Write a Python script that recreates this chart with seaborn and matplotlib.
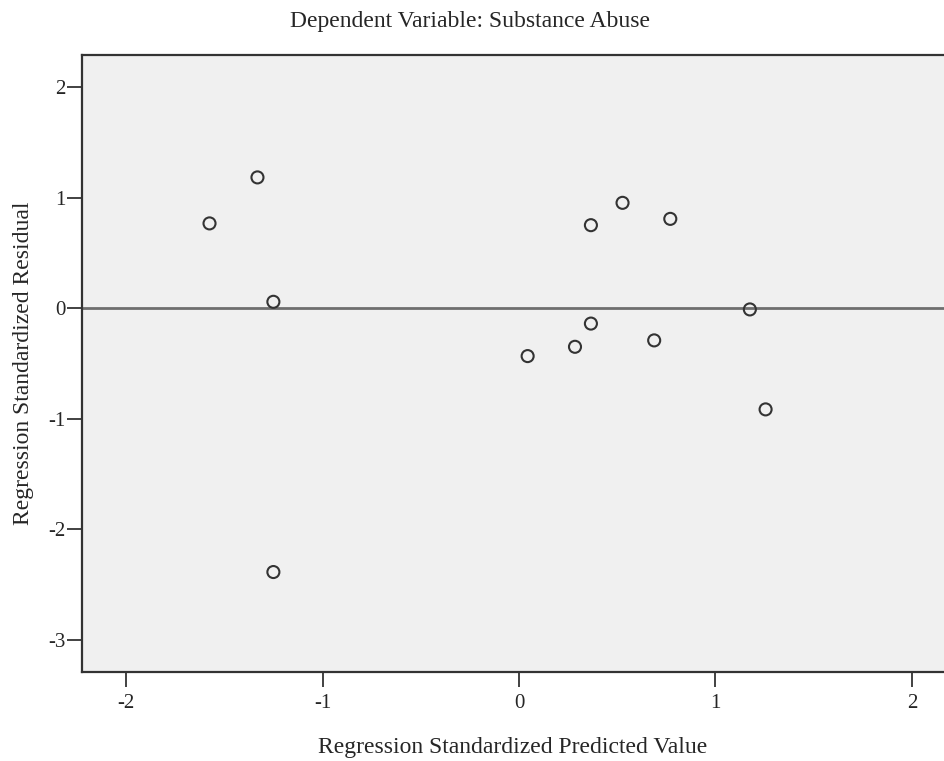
import numpy as np
import matplotlib
matplotlib.use("Agg")
import matplotlib.pyplot as plt
import pandas as pd
import seaborn as sns

# values
pred = [-1.575, -1.331, -1.250, -1.250, 0.044, 0.285, 0.366, 0.366,
        0.527, 0.688, 0.770, 1.175, 1.255]
resid = [0.766, 1.182, 0.057, -2.387, -0.434, -0.350, 0.750, -0.140,
         0.952, -0.292, 0.807, -0.012, -0.916]
xticks = [-2, -1, 0, 1, 2]
yticks = [-3, -2, -1, 0, 1, 2]

df = pd.DataFrame({"pred": pred, "resid": resid})

sns.set_style("white")
plt.rcParams['font.family'] = ['Liberation Serif', 'DejaVu Serif']

fig = plt.figure(figsize=(9.44, 7.61), dpi=100)
ax = fig.add_axes([82/944, 89/761, 1 - 82/944, 617/761])
ax.set_facecolor("#f0f0f0")

ax.axhline(0, color="#6e6e6e", lw=2, zorder=1)
sns.scatterplot(data=df, x="pred", y="resid", ax=ax, s=75,
                facecolor="none", edgecolor="#333333", linewidth=1.5, zorder=3)

ax.set_xlim(-2.224, 2.163)
ax.set_ylim(-3.291, 2.289)
ax.set_xticks(xticks)
ax.set_yticks(yticks)
ax.set_xticklabels([str(t) for t in xticks])
ax.set_yticklabels([str(t) for t in yticks])
ax.tick_params(direction="out", length=11, width=1.3, color="#333333",
               labelsize=15, bottom=True, left=True)
ax.tick_params(axis="y", pad=1)
ax.tick_params(axis="x", pad=5)

for side in ["left", "bottom", "top"]:
    ax.spines[side].set_color("#333333")
    ax.spines[side].set_linewidth(1.6)
ax.spines["right"].set_visible(False)

ax.set_xlabel("Regression Standardized Predicted Value", fontsize=17, labelpad=17)
ax.set_ylabel("Regression Standardized Residual", fontsize=17, labelpad=10)
fig.text(0.498, 1 - 22/761, "Dependent Variable: Substance Abuse",
         ha="center", va="center", fontsize=17)

fig.savefig("out.png", dpi=100)
